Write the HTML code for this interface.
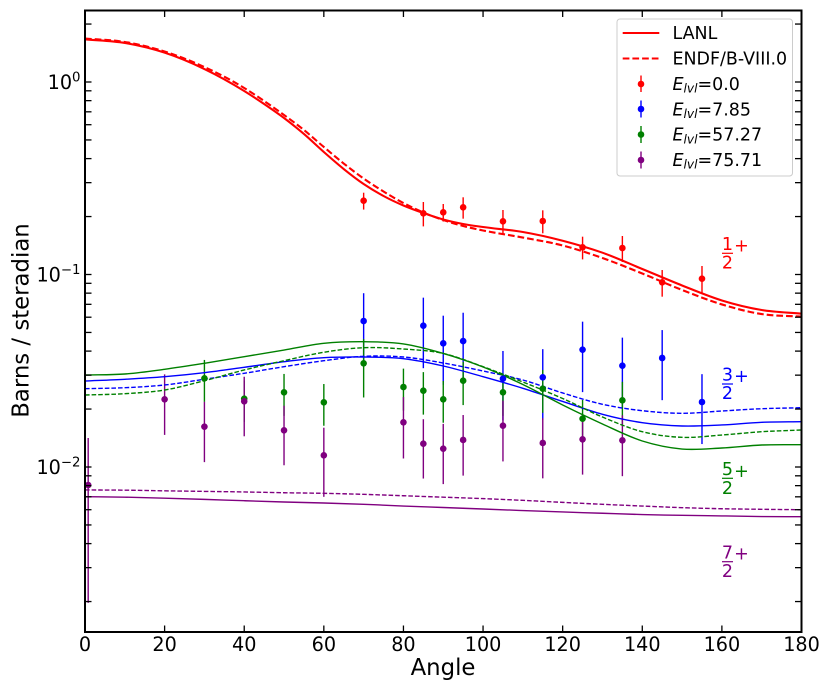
<!DOCTYPE html>
<html lang="en">
<head>
<meta charset="utf-8">
<title>Barns per steradian versus angle</title>
<style>
html,body{margin:0;padding:0;background:#fff;width:830px;height:692px;overflow:hidden}
svg{display:block}
text{font-family:"DejaVu Sans","Liberation Sans",sans-serif;fill:#000}
</style>
</head>
<body>
<svg id="chart" xmlns="http://www.w3.org/2000/svg" width="830" height="692" viewBox="0 0 830 692">
  <rect x="0" y="0" width="830" height="692" fill="#fff"/>
  <g id="bars"></g>
  <g id="lines"></g>
  <g id="markers"></g>
  <g id="ticks"></g>
  <g id="ticklabels"></g>
  <g>
    <line x1="85" y1="9.5" x2="85" y2="633" stroke="#000" stroke-width="2"/>
    <line x1="801.5" y1="9.5" x2="801.5" y2="633" stroke="#000" stroke-width="2"/>
    <line x1="84" y1="10.5" x2="802.5" y2="10.5" stroke="#000" stroke-width="2"/>
    <line x1="84" y1="632" x2="802.5" y2="632" stroke="#000" stroke-width="2"/>
  </g>
  <text x="443" y="675" font-size="22.8" text-anchor="middle">Angle</text>
  <text transform="translate(28.5,320.5) rotate(-90)" font-size="22.8" text-anchor="middle">Barns / steradian</text>

  <g>
    <text x="727.5" y="250" font-size="17.5" text-anchor="middle" style="fill:#ff0000">1</text>
    <rect x="722" y="252.7" width="11" height="1.2" fill="#ff0000"/>
    <text x="727.5" y="268.5" font-size="17.5" text-anchor="middle" style="fill:#ff0000">2</text>
    <text x="741.5" y="251.5" font-size="17.5" text-anchor="middle" style="fill:#ff0000">+</text>
  </g>
  <g>
    <text x="727.5" y="380.5" font-size="17.5" text-anchor="middle" style="fill:#0000ff">3</text>
    <rect x="722" y="383.4" width="11" height="1.2" fill="#0000ff"/>
    <text x="727.5" y="399" font-size="17.5" text-anchor="middle" style="fill:#0000ff">2</text>
    <text x="741.5" y="382" font-size="17.5" text-anchor="middle" style="fill:#0000ff">+</text>
  </g>
  <g>
    <text x="727.5" y="475" font-size="17.5" text-anchor="middle" style="fill:#008000">5</text>
    <rect x="722" y="477.7" width="11" height="1.2" fill="#008000"/>
    <text x="727.5" y="494" font-size="17.5" text-anchor="middle" style="fill:#008000">2</text>
    <text x="741.5" y="477" font-size="17.5" text-anchor="middle" style="fill:#008000">+</text>
  </g>
  <g>
    <text x="727.5" y="558.5" font-size="17.5" text-anchor="middle" style="fill:#800080">7</text>
    <rect x="722" y="561.1" width="11" height="1.2" fill="#800080"/>
    <text x="727.5" y="577" font-size="17.5" text-anchor="middle" style="fill:#800080">2</text>
    <text x="741.5" y="559.7" font-size="17.5" text-anchor="middle" style="fill:#800080">+</text>
  </g>

  <g>
    <rect x="617" y="19" width="175.5" height="157" rx="3" ry="3" fill="#fff" fill-opacity="0.8" stroke="#ccc" stroke-width="1"/>
    <g>
      <line x1="622.7" y1="33" x2="659.3" y2="33" stroke="#ff0000" stroke-width="2.1"/>
      <text x="672.5" y="39" font-size="17.45">LANL</text>
    </g>
    <g>
      <line x1="622.7" y1="58.5" x2="659.3" y2="58.5" stroke="#ff0000" stroke-width="2.1" stroke-dasharray="6.7 3"/>
      <text x="672.5" y="64.5" font-size="17.45">ENDF/B-VIII.0</text>
    </g>
    <g>
      <line x1="641" y1="75.5" x2="641" y2="92" stroke="#ff0000" stroke-width="1.4"/>
      <circle cx="641" cy="84" r="3.3" fill="#ff0000"/>
      <text x="672.5" y="90" font-size="17.45"><tspan font-style="italic">E</tspan><tspan font-style="italic" font-size="12.2" dy="2.6">lvl</tspan><tspan dy="-2.6">=0.0</tspan></text>
    </g>
    <g>
      <line x1="641" y1="100.5" x2="641" y2="117.5" stroke="#0000ff" stroke-width="1.4"/>
      <circle cx="641" cy="109" r="3.3" fill="#0000ff"/>
      <text x="672.5" y="115.3" font-size="17.45"><tspan font-style="italic">E</tspan><tspan font-style="italic" font-size="12.2" dy="2.6">lvl</tspan><tspan dy="-2.6">=7.85</tspan></text>
    </g>
    <g>
      <line x1="641" y1="126" x2="641" y2="143" stroke="#008000" stroke-width="1.4"/>
      <circle cx="641" cy="134.5" r="3.3" fill="#008000"/>
      <text x="672.5" y="140.7" font-size="17.45"><tspan font-style="italic">E</tspan><tspan font-style="italic" font-size="12.2" dy="2.6">lvl</tspan><tspan dy="-2.6">=57.27</tspan></text>
    </g>
    <g>
      <line x1="641" y1="151.5" x2="641" y2="168.5" stroke="#800080" stroke-width="1.4"/>
      <circle cx="641" cy="160" r="3.3" fill="#800080"/>
      <text x="672.5" y="166" font-size="17.45"><tspan font-style="italic">E</tspan><tspan font-style="italic" font-size="12.2" dy="2.6">lvl</tspan><tspan dy="-2.6">=75.71</tspan></text>
    </g>
  </g>
</svg>
<script>
// ---- Data: curve angles ----
const redAngles = [0,10,20,30,40,45,50,55,60,65,70,75,80,85,90,95,100,110,120,130,140,150,160,170,180];
const curveAngles = [0,10,20,30,40,50,60,70,80,90,100,110,120,130,140,150,160,170,180];

// ---- Data: model curves ----
const redLanl = [1.666,1.595,1.42,1.168,0.898,0.7686,0.650,0.537,0.4329,0.3532,0.2952,0.2557,0.2282,0.2086,0.1931,0.183,0.1765,0.1663,0.1498,0.1298,0.1068,0.0877,0.0733,0.0654,0.0626];
const redEndf = [1.682,1.614,1.44,1.196,0.931,0.7967,0.674,0.5631,0.4596,0.3772,0.3152,0.2699,0.2351,0.2099,0.1919,0.1786,0.1693,0.1556,0.1415,0.1218,0.1012,0.0831,0.0699,0.0623,0.0604];
const blueLanl = [0.02797,0.02856,0.02945,0.0309,0.03296,0.03524,0.03696,0.03727,0.03653,0.03347,0.02945,0.02564,0.0219,0.01879,0.01699,0.01633,0.01653,0.01707,0.01719];
const blueEndf = [0.02552,0.02582,0.02667,0.02856,0.03068,0.0332,0.03566,0.03759,0.03727,0.03469,0.03153,0.02831,0.02424,0.02117,0.01961,0.01901,0.01954,0.02008,0.02032];
const greenLanl = [0.03006,0.03042,0.03218,0.03457,0.03741,0.04052,0.04391,0.04477,0.04355,0.03889,0.03307,0.02683,0.02099,0.01673,0.01365,0.0124,0.01255,0.01301,0.01306];
const greenEndf = [0.02366,0.02403,0.02512,0.02807,0.03191,0.03566,0.03945,0.04167,0.04102,0.03889,0.0332,0.02764,0.02269,0.01818,0.01525,0.01426,0.01466,0.01525,0.01557];
const purpleLanl = [0.00701,0.00697,0.00689,0.00679,0.00668,0.00658,0.0065,0.0064,0.00627,0.00616,0.00605,0.00594,0.00584,0.00575,0.00566,0.00561,0.00557,0.00553,0.00552];
const purpleEndf = [0.0076,0.00758,0.00752,0.00747,0.00742,0.00735,0.0073,0.00721,0.00709,0.00697,0.00685,0.00671,0.00655,0.0064,0.00627,0.00615,0.00607,0.00603,0.006];

// ---- Data: measured points ----
const redPointAngles = [70,85,90,95,105,115,125,135,145,155];
const redPointValues = [0.2417,0.2079,0.2104,0.2234,0.189,0.1896,0.1385,0.1373,0.0911,0.0951];
const redPointErrors = [0.0243,0.0301,0.022,0.0284,0.0273,0.0259,0.0187,0.0212,0.0144,0.0156];

const bluePointAngles = [70,85,90,95,105,115,125,135,145,155];
const bluePointValues = [0.05734,0.0542,0.0439,0.0451,0.02876,0.02924,0.04069,0.03359,0.03684,0.02176];
const bluePointErrors = [0.0226,0.0216,0.0172,0.0182,0.0113,0.0117,0.0162,0.0134,0.0146,0.0086];

const greenPointAngles = [30,40,50,60,70,80,85,90,95,105,115,125,135];
const greenPointValues = [0.02889,0.02264,0.02444,0.02168,0.03457,0.02604,0.02491,0.02248,0.02807,0.02444,0.02552,0.01782,0.0222];
const greenPointErrors = [0.0071,0.0055,0.006,0.0053,0.0116,0.0064,0.0062,0.0055,0.0071,0.006,0.0064,0.0045,0.0055];

const purplePointAngles = [0.8,20,30,40,50,60,80,85,90,95,105,115,125,135];
const purplePointValues = [0.00806,0.02248,0.0162,0.02194,0.01551,0.0115,0.01707,0.01321,0.01245,0.01382,0.01639,0.01333,0.01393,0.01376];
const purplePointErrors = [0.00609,0.0078,0.0056,0.0075,0.0053,0.0045,0.006,0.0045,0.0043,0.0048,0.0057,0.0046,0.0048,0.0048];

// ---- Data: axis ticks ----
const xTickValues = [0,20,40,60,80,100,120,140,160,180];
const yMajorExponents = [0,-1,-2];
const yMajorLabels = ['0','\u22121','\u22122'];
const yMinorValues = [2,0.9,0.8,0.7,0.6,0.5,0.4,0.3,0.2,0.09,0.08,0.07,0.06,0.05,0.04,0.03,0.02,0.009,0.008,0.007,0.006,0.005,0.004,0.003,0.002];

// ---- Axis functions ----
const NS = 'http://www.w3.org/2000/svg';
const xLeft = 85, xRight = 801.5, xMin = 0, xMax = 180;
const yTop = 10.5, yBottom = 632, decadePx = 192.5, yZeroPx = 82;
function xScale(a) { return xLeft + (a - xMin) * (xRight - xLeft) / (xMax - xMin); }
function yScale(v) { return yZeroPx - decadePx * Math.log10(v); }

function make(tag, parent) {
  const el = document.createElementNS(NS, tag);
  parent.appendChild(el);
  return el;
}

function smoothPath(xs, ys) {
  const pts = xs.map(function (a, i) { return [xScale(a), yScale(ys[i])]; });
  const n = pts.length;
  const slopes = pts.map(function (p, i) {
    if (i === 0) return (pts[1][1] - p[1]) / (pts[1][0] - p[0]);
    if (i === n - 1) return (p[1] - pts[i - 1][1]) / (p[0] - pts[i - 1][0]);
    const h1 = p[0] - pts[i - 1][0], h2 = pts[i + 1][0] - p[0];
    const d1 = (p[1] - pts[i - 1][1]) / h1, d2 = (pts[i + 1][1] - p[1]) / h2;
    return (h2 * d1 + h1 * d2) / (h1 + h2);
  });
  let d = 'M' + pts[0][0].toFixed(2) + ' ' + pts[0][1].toFixed(2);
  for (let i = 0; i < n - 1; i++) {
    const h = (pts[i + 1][0] - pts[i][0]) / 3;
    d += 'C' + (pts[i][0] + h).toFixed(2) + ' ' + (pts[i][1] + slopes[i] * h).toFixed(2) + ' ' +
         (pts[i + 1][0] - h).toFixed(2) + ' ' + (pts[i + 1][1] - slopes[i + 1] * h).toFixed(2) + ' ' +
         pts[i + 1][0].toFixed(2) + ' ' + pts[i + 1][1].toFixed(2);
  }
  return d;
}

// ---- Error bars (beneath curves) ----
const barsLayer = document.getElementById('bars');
function drawBars(seriesName, color, angles, values, errors) {
  angles.forEach(function (a, i) {
    const line = make('line', barsLayer);
    
    
    line.setAttribute('x1', xScale(a));
    line.setAttribute('x2', xScale(a));
    line.setAttribute('y1', yScale(values[i] + errors[i]));
    line.setAttribute('y2', yScale(values[i] - errors[i]));
    line.setAttribute('stroke', color);
    line.setAttribute('stroke-width', 1.4);
  });
}
drawBars('red', '#ff0000', redPointAngles, redPointValues, redPointErrors);
drawBars('blue', '#0000ff', bluePointAngles, bluePointValues, bluePointErrors);
drawBars('green', '#008000', greenPointAngles, greenPointValues, greenPointErrors);
drawBars('purple', '#800080', purplePointAngles, purplePointValues, purplePointErrors);

// ---- Curves ----
const linesLayer = document.getElementById('lines');
function drawCurve(curveName, color, width, dash, angles, values) {
  const path = make('path', linesLayer);
  
  
  path.setAttribute('d', smoothPath(angles, values));
  path.setAttribute('fill', 'none');
  path.setAttribute('stroke', color);
  path.setAttribute('stroke-width', width);
  if (dash) path.setAttribute('stroke-dasharray', dash);
}
drawCurve('red-lanl-curve', '#ff0000', 2.1, null, redAngles, redLanl);
drawCurve('red-endf-curve', '#ff0000', 2.1, '6.7 3', redAngles, redEndf);
drawCurve('blue-lanl-curve', '#0000ff', 1.4, null, curveAngles, blueLanl);
drawCurve('blue-endf-curve', '#0000ff', 1.4, '4.6 2', curveAngles, blueEndf);
drawCurve('green-lanl-curve', '#008000', 1.4, null, curveAngles, greenLanl);
drawCurve('green-endf-curve', '#008000', 1.4, '4.6 2', curveAngles, greenEndf);
drawCurve('purple-lanl-curve', '#800080', 1.4, null, curveAngles, purpleLanl);
drawCurve('purple-endf-curve', '#800080', 1.4, '4.6 2', curveAngles, purpleEndf);

// ---- Markers ----
const markersLayer = document.getElementById('markers');
function drawMarkers(seriesName, color, angles, values) {
  angles.forEach(function (a, i) {
    const dot = make('circle', markersLayer);
    
    
    dot.setAttribute('cx', xScale(a));
    dot.setAttribute('cy', yScale(values[i]));
    dot.setAttribute('r', 3.3);
    dot.setAttribute('fill', color);
  });
}
drawMarkers('red', '#ff0000', redPointAngles, redPointValues);
drawMarkers('blue', '#0000ff', bluePointAngles, bluePointValues);
drawMarkers('green', '#008000', greenPointAngles, greenPointValues);
drawMarkers('purple', '#800080', purplePointAngles, purplePointValues);

// ---- Ticks ----
const ticksLayer = document.getElementById('ticks');
const labelsLayer = document.getElementById('ticklabels');
const tickLength = 6.5;
function tickLine(x1, y1, x2, y2, tickName) {
  const t = make('line', ticksLayer);
  
  
  t.setAttribute('x1', x1);
  t.setAttribute('y1', y1);
  t.setAttribute('x2', x2);
  t.setAttribute('y2', y2);
  t.setAttribute('stroke', '#000');
  t.setAttribute('stroke-width', 1.3);
}
xTickValues.forEach(function (v) {
  const x = xScale(v);
  tickLine(x, yBottom, x, yBottom - tickLength, 'x-tick');
  tickLine(x, yTop, x, yTop + tickLength, 'x-tick-top');
  const label = make('text', labelsLayer);
  
  
  label.setAttribute('x', x);
  label.setAttribute('y', 651);
  label.setAttribute('font-size', 19.2);
  label.setAttribute('text-anchor', 'middle');
  label.textContent = String(v);
});
yMinorValues.forEach(function (v) {
  const y = yScale(v);
  tickLine(xLeft, y, xLeft + tickLength, y, 'y-minor-tick');
  tickLine(xRight, y, xRight - tickLength, y, 'y-minor-tick-right');
});
yMajorExponents.forEach(function (e, i) {
  const y = yScale(Math.pow(10, e));
  tickLine(xLeft, y, xLeft + tickLength, y, 'y-major-tick');
  tickLine(xRight, y, xRight - tickLength, y, 'y-major-tick-right');
  const label = make('text', labelsLayer);
  
  
  label.setAttribute('x', 80.5);
  label.setAttribute('y', y + 7.2);
  label.setAttribute('font-size', 19.2);
  label.setAttribute('text-anchor', 'end');
  const base = make('tspan', label);
  base.textContent = '10';
  const sup = make('tspan', label);
  sup.setAttribute('font-size', 13.3);
  sup.setAttribute('dy', -7.5);
  sup.textContent = yMajorLabels[i];
});
</script>
</body>
</html>
